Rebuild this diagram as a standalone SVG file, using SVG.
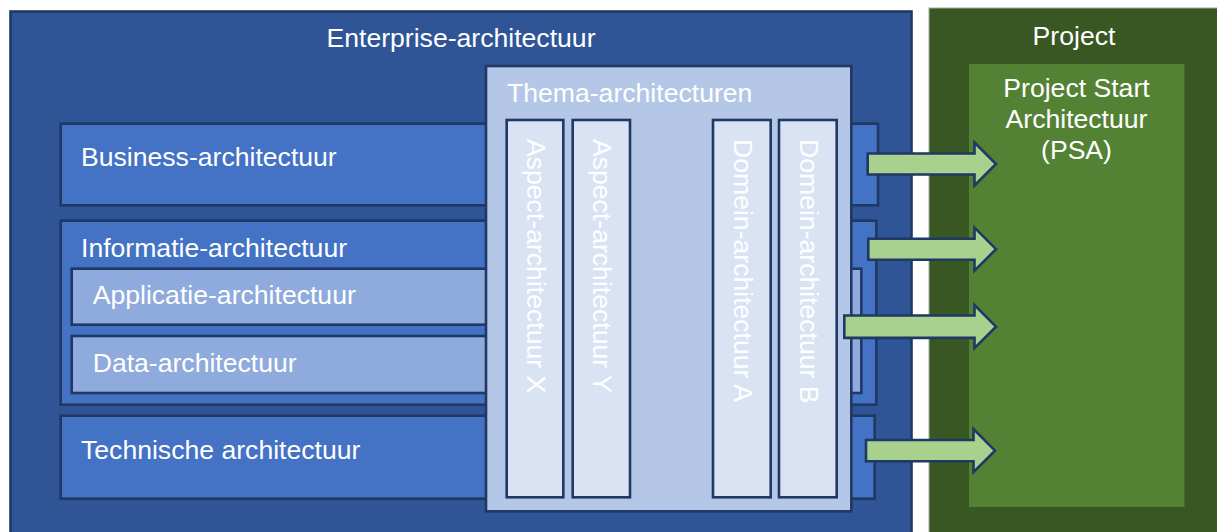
<svg xmlns="http://www.w3.org/2000/svg" width="1217" height="532" viewBox="0 0 1217 532">
  <style>
    .lbl { font-family: "Liberation Sans", Arial, sans-serif; font-size: 26.6px; fill: #ffffff; }
    .mid { text-anchor: middle; }
    .box { stroke: #1f3864; stroke-width: 2.6; }
    .ea { fill: #2f5597; }
    .layer { fill: #4472c4; }
    .sub { fill: #8faadc; }
    .theme { fill: #b4c7e7; }
    .col { fill: #dae3f3; }
    .arrow { fill: #a9d18e; stroke: #1f3864; stroke-width: 2.6; stroke-linejoin: miter; }
  </style>

  <rect x="0" y="0" width="1217" height="532" fill="#ffffff"/>

  <!-- Enterprise architecture frame -->
  <g id="enterprise">
    <rect class="box ea" x="10.5" y="11.5" width="901" height="530"/>
    <text class="lbl mid" x="461" y="47">Enterprise-architectuur</text>
  </g>

  <!-- Project frame -->
  <g id="project">
    <rect x="929" y="8" width="300" height="540" fill="#385723" stroke="#a3aba0" stroke-width="1"/>
    <text class="lbl mid" x="1074" y="45">Project</text>
  </g>

  <g id="psa">
    <rect x="969" y="64" width="215.5" height="443" fill="#548235"/>
    <text class="lbl mid" x="1076.5" y="97">Project Start</text>
    <text class="lbl mid" x="1076.5" y="128">Architectuur</text>
    <text class="lbl mid" x="1076.5" y="159">(PSA)</text>
  </g>

  <g id="business">
    <rect class="box layer" x="60.7" y="123.7" width="817.3" height="81.6"/>
    <text class="lbl" x="81" y="166">Business-architectuur</text>
  </g>

  <g id="informatie">
    <rect class="box layer" x="60.7" y="220.7" width="815.6" height="184"/>
    <text class="lbl" x="81" y="257">Informatie-architectuur</text>
  </g>

  <g id="applicatie">
    <rect class="box sub" x="71.7" y="268.7" width="789.6" height="56"/>
    <text class="lbl" x="92.7" y="304">Applicatie-architectuur</text>
  </g>

  <g id="data">
    <rect class="box sub" x="71.7" y="336" width="789.6" height="57"/>
    <text class="lbl" x="92.7" y="372">Data-architectuur</text>
  </g>

  <g id="technisch">
    <rect class="box layer" x="60.7" y="415.7" width="814" height="83"/>
    <text class="lbl" x="81" y="459">Technische architectuur</text>
  </g>

  <g id="thema">
    <rect class="box theme" x="486" y="66" width="365.3" height="445.3"/>
    <text class="lbl" x="507" y="102">Thema-architecturen</text>
  </g>

  <g id="aspect-x">
    <rect class="box col" x="506.7" y="120" width="56.6" height="377.3"/>
    <text class="lbl" transform="translate(527,139) rotate(90)">Aspect-architectuur X</text>
  </g>

  <g id="aspect-y">
    <rect class="box col" x="572.7" y="120" width="57.3" height="377.3"/>
    <text class="lbl" transform="translate(593,139) rotate(90)">Aspect-architectuur Y</text>
  </g>

  <g id="domein-a">
    <rect class="box col" x="713" y="120" width="57.7" height="377.3"/>
    <text class="lbl" transform="translate(733.5,139) rotate(90)">Domein-architectuur A</text>
  </g>

  <g id="domein-b">
    <rect class="box col" x="779" y="120" width="57.7" height="377.3"/>
    <text class="lbl" transform="translate(799.5,139) rotate(90)">Domein-architectuur B</text>
  </g>

  <!-- block arrows from the architecture layers into the PSA -->
  <g id="connectors">
    <path class="arrow" d="M867.7,153.5 H974.5 V142.5 L996,164 L974.5,185.5 V174.5 H867.7 Z"/>
    <path class="arrow" d="M868.3,238.7 H974.5 V227.7 L996,249.2 L974.5,270.7 V259.7 H868.3 Z"/>
    <path class="arrow" d="M844.3,315.5 H974.5 V305 L996,326.7 L974.5,348.2 V337.9 H844.3 Z"/>
    <path class="arrow" d="M866,440 H973.5 V429 L995,450.7 L973.5,472.2 V461.3 H866 Z"/>
  </g>
</svg>
